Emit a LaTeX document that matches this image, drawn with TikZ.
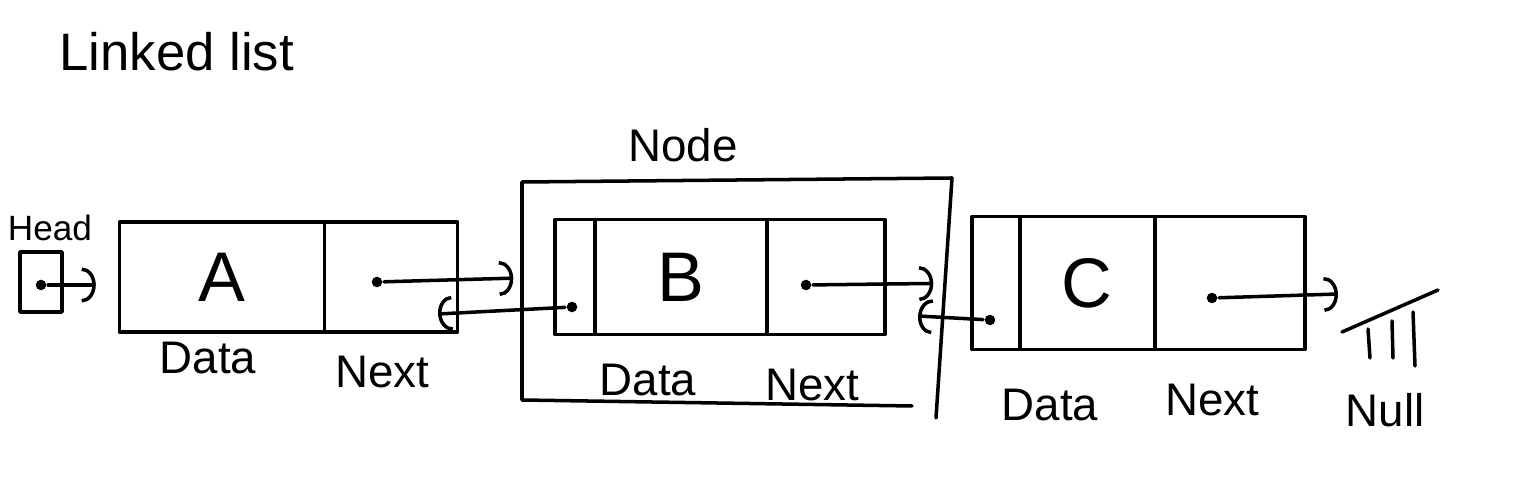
\documentclass[tikz,border=0pt]{standalone}
\usepackage{fontspec}
\setmainfont{Liberation Sans}
\usetikzlibrary{arrows.meta}
\tikzset{
  cell/.style={draw, inner sep=0pt},
  ptrdot/.style={circle, fill, inner sep=0pt, minimum size=6pt},
  ptr/.style={-{Arc Barb[length=8pt,width=20pt]}},
  lbl/.style={font=\fontsize{26}{26}\selectfont},
  big/.style={font=\fontsize{40}{40}\selectfont}
}
\begin{document}
\begin{tikzpicture}[x=0.02cm, y=-0.02cm, line width=2pt, line cap=round, line join=round]
      \useasboundingbox (0,0) rectangle (1536,482);
      \node[anchor=west, font=\fontsize{30}{30}\selectfont] (title) at (52,52) {Linked list};
      \draw
        (50,228) node[font=\fontsize{20}{20}\selectfont] (headlbl){Head}
        (41,282) node[cell, minimum width=0.84cm, minimum height=1.2cm] (head){}
        (222,277) node[cell, minimum width=4.1cm, minimum height=2.2cm] (Ad){}
        (391,277) node[cell, minimum width=2.66cm, minimum height=2.2cm] (An){}
        (575,277) node[cell, minimum width=0.8cm, minimum height=2.3cm] (Bp){}
        (681,277) node[cell, minimum width=3.44cm, minimum height=2.3cm] (Bd){}
        (826,277) node[cell, minimum width=2.36cm, minimum height=2.3cm] (Bn){}
        (996,283) node[cell, minimum width=0.96cm, minimum height=2.66cm] (Cp){}
        (1087,283) node[cell, minimum width=2.7cm, minimum height=2.66cm] (Cd){}
        (1230,283) node[cell, minimum width=3.0cm, minimum height=2.66cm] (Cn){};
      \node[big] (A) at (Ad) {A};
      \node[big] (B) at (Bd) {B};
      \node[big] (C) at (Cd) {C};
      \node[lbl] (Adata) at (208,358) {Data};
      \node[lbl] (Anext) at (382,372) {Next};
      \node[lbl] (Bdata) at (648,380) {Data};
      \node[lbl] (Bnext) at (812,385) {Next};
      \node[lbl] (Cdata) at (1050,405) {Data};
      \node[lbl] (Cnext) at (1212,400) {Next};
      \node[lbl] (nodelbl) at (683,145) {Node};
      \node[lbl] (nulllbl) at (1385,410) {Null};
      \draw (522,400) -- (522,182) -- (952,178) -- (936,418);
      \draw (522,400) -- (912,406);
      \node[ptrdot] (hdot) at (41,285) {};
      \node[ptrdot] (adot) at (377,282) {};
      \node[ptrdot] (bpdot) at (572,307) {};
      \node[ptrdot] (bndot) at (806,285) {};
      \node[ptrdot] (cpdot) at (990,320) {};
      \node[ptrdot] (cndot) at (1212,298) {};
      \coordinate (aIn) at (438,314);
      \coordinate (bIn) at (918,316);
      \coordinate (null) at (1338,294);
      \draw (1342,332) -- (1438,290);
      \draw (1368,329) -- (1370,358);
      \draw (1392,321) -- (1393,358);
      \draw (1413,312) -- (1415,366);
      \begin{scope}[ptr]
        \draw[shorten >=0.44cm] (hdot) to (Ad.west |- hdot);
        \draw[shorten >=0.8cm] (adot) to (Bp.west);
        \draw (bpdot) to (aIn);
        \draw[shorten >=0.74cm] (bndot) to (Cp.west);
        \draw (cpdot) to (bIn);
        \draw (cndot) to (null);
      \end{scope}
    \end{tikzpicture}
\end{document}
